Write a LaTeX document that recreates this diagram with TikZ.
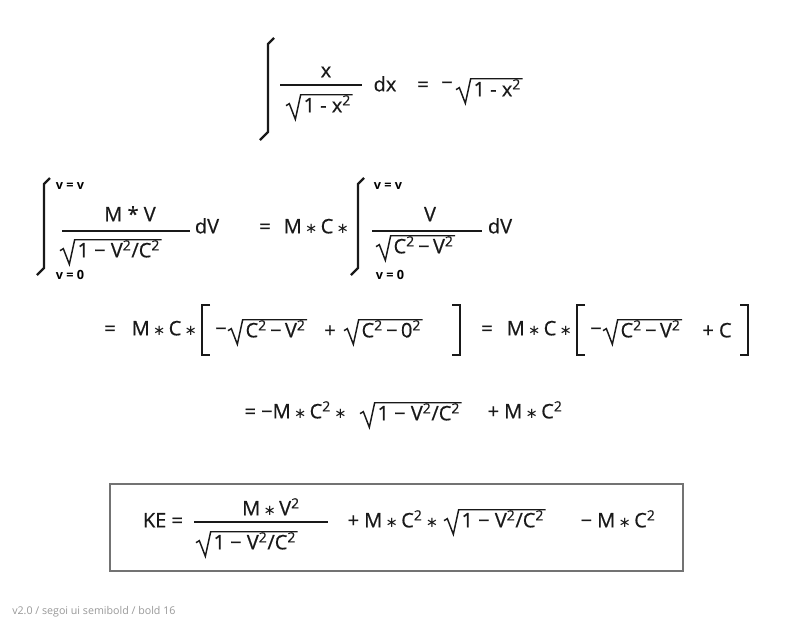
\documentclass[tikz,border=0pt]{standalone}
\usepackage{fontspec}
\setmainfont{Open Sans}
\newfontfamily\semib{Open Sans}[FakeBold=0.6]
\newfontfamily\symf{DejaVu Sans}
\newcommand\st{\,{\symf\fontsize{11}{12}\selectfont ∗}\,}
\newcommand\sq{\textsuperscript{2}}
\begin{document}
\begin{tikzpicture}[x=0.75pt,y=-0.75pt,
  t/.style={inner sep=1pt,text height=11pt,text depth=3pt,font=\semib\fontsize{15}{18}\selectfont,text=black!90},
  lim/.style={inner sep=1pt,font=\fontsize{9.5}{11}\selectfont\bfseries},
  ln/.style={line width=1.4pt,black!90},
  intg/.style={line width=1.8pt,black!90},
  rad/.style={line width=1.1pt,black!90,line join=miter}]
\newcommand\rt[3]{\node[t,anchor=west] (#1) at (#2) {#3};
  \draw[rad] ([xshift=-12pt,yshift=1pt]#1.west) -- ++(2.5pt,1.5pt) -- ([xshift=-5pt,yshift=-1pt]#1.south west) -- ([xshift=-1pt,yshift=1pt]#1.north west) -- ([yshift=1pt]#1.north east);}
\path[fill=white] (0,0) rectangle (800,625);
% row 1
\draw[intg] (274,38)--(268,44)--(268,132)--(260,140);
\node[t] (x1) at (326,72) {x};
\draw[ln] (280,85) -- (362,85);
\rt{r1}{302,107}{1 - x\sq}
\node[t] (dx) at (385,86) {dx};
\node[t] (e1) at (423,86) {=};
\node[t] (m1) at (447,84) {−};
\rt{r2}{472,91}{1 - x\sq}
% row 2
\draw[intg] (50,178)--(44,184)--(44,268)--(37,275);
\node[lim] (l1) at (70,186) {v = v};
\node[lim] (l2) at (70,275) {v = 0};
\node[t] (n1) at (130,216) {M * V};
\draw[ln] (62,231) -- (190,231);
\rt{r3}{76,252}{1 − V\sq/C\sq}
\node[t] (dv1) at (207,228) {dV};
\node[t] (e2) at (265,228) {=};
\node[t] (mc1) at (318,228) {M\st C\st};
\draw[intg] (364,178)--(358,184)--(358,268)--(351,275);
\node[lim] (l3) at (388,186) {v = v};
\node[lim] (l4) at (390,275) {v = 0};
\node[t] (n2) at (430,216) {V};
\draw[ln] (372,231) -- (482,231);
\rt{r4}{392,248}{C\sq\,−\,V\sq}
\node[t] (dv2) at (500,228) {dV};
% row 3
\node[t] (e3) at (110,330) {=};
\node[t] (mc2) at (166,330) {M\st C\st};
\draw[ln] (210,305)--(202,305)--(202,355)--(210,355);
\node[t] (m2) at (221,330) {−};
\rt{r5}{244,332}{C\sq\,−\,V\sq}
\node[t] (p1) at (330,332) {+};
\rt{r6}{360,332}{C\sq\,−\,0\sq}
\draw[ln] (452,305)--(460,305)--(460,355)--(452,355);
\node[t] (e4) at (487,330) {=};
\node[t] (mc3) at (541,330) {M\st C\st};
\draw[ln] (585,305)--(577,305)--(577,355)--(585,355);
\node[t] (m3) at (596,330) {−};
\rt{r7}{619,332}{C\sq\,−\,V\sq}
\node[t] (pc) at (717,332) {+ C};
\draw[ln] (740,305)--(748,305)--(748,355)--(740,355);
% row 4
\node[t,anchor=west] (a4) at (243,413) {= −M\st C\sq\st};
\rt{r8}{376,415}{1 − V\sq/C\sq}
\node[t,anchor=west] (b4) at (486,413) {+ M\st C\sq};
% box
\draw[black!55,line width=1.2pt] (110,484) rectangle (683,571);
\node[t] (ke) at (163,522) {KE =};
\node[t] (n3) at (271,510) {M\st V\sq};
\draw[ln] (194,522) -- (328,522);
\rt{r9}{212,544}{1 − V\sq/C\sq}
\node[t,anchor=west] (c5) at (346,522) {+ M\st C\sq\st};
\rt{r10}{460,522}{1 − V\sq/C\sq}
\node[t,anchor=west] (d5) at (579,522) {− M\st C\sq};
\node[anchor=west,inner sep=0pt,font=\fontsize{8}{9}\selectfont,text=black!40] (ft) at (12,612) {v2.0 / segoi ui semibold / bold 16};
\end{tikzpicture}
\end{document}
